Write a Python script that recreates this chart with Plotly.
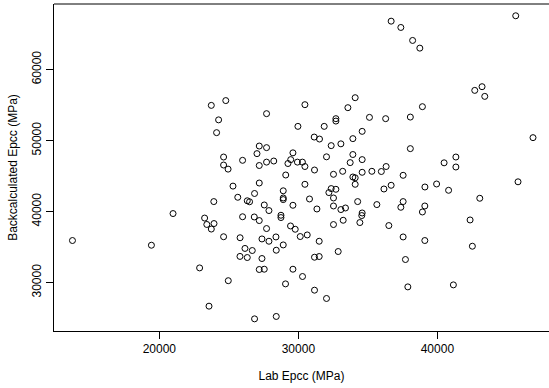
import plotly.graph_objects as go

lab_epcc = [
    13750, 19430, 20985, 22896, 23256, 23414, 23931, 23737, 23917, 23572,
    23737, 24779, 24262, 24118, 24621, 24621, 24945, 25987, 25297, 25642,
    26325, 26490, 26849, 25987, 26828, 24621, 25807, 26159, 26684, 25800,
    26325, 24959, 26849, 27712, 30471, 34087, 33562, 35114, 36279, 32699,
    32699, 29968, 31859, 34590, 31140, 31521, 33921, 32362, 33059, 27187,
    27712, 27022, 29609, 32024, 33921, 34590, 33727, 27187, 27712, 28229,
    29250, 29451, 29932, 30292, 30471, 31161, 33188, 34590, 35287, 35969,
    36314, 29092, 32527, 33921, 34087, 27187, 30471, 34087, 36156, 36674,
    28912, 28912, 28912, 29609, 30802, 32196, 32362, 32699, 32527, 34266,
    35646, 32527, 33059, 33389, 31334, 27546, 27884, 34590, 34560, 34424,
    33224, 32527, 28747, 28747, 27187, 29436, 29774, 27712, 30134, 30637,
    28387, 27381, 27884, 31499, 28409, 28912, 27381, 31161, 31499, 32865,
    27187, 27546, 29609, 30299, 29077, 31161, 32024, 28409, 36674, 37371,
    38219, 38737, 45636, 42689, 43214, 43408, 38923, 38054, 46879, 38054,
    41331, 40483, 41331, 37536, 39103, 39944, 40806, 45801, 43049, 37536,
    37371, 39096, 38923, 42352, 36508, 37536, 39096, 42517, 37702, 37874,
    41151,
]

back_epcc = [
    35923, 35262, 39719, 32070, 39086, 38186, 38313, 37539, 41406, 26685,
    54946, 55621, 52907, 51107, 47677, 46552, 45976, 47213, 43585, 42011,
    41518, 41378, 42545, 39269, 39241, 36457, 36316, 34812, 34517, 33687,
    33532, 30270, 24900, 53779, 55044, 56028, 54622, 53259, 53076, 53076,
    52738, 51993, 51993, 51290, 50489, 50208, 50264, 49280, 49533, 49223,
    48998, 48155, 48267, 47705, 48028, 47311, 46889, 46482, 46960, 47114,
    46763, 47311, 46960, 46960, 46341, 45849, 45666, 45526, 45666, 45638,
    46341, 45146, 45244, 44865, 44752, 44021, 43838, 43838, 43178, 43698,
    42924, 41912, 41687, 40886, 41772, 42671, 43234, 43135, 41912, 41406,
    40984, 40787, 40281, 40506, 40366, 40928, 40141, 39803, 39438, 38453,
    38777, 38172, 39480, 39156, 38735, 37975, 37511, 37610, 36485, 36710,
    36429, 36148, 35824, 35824, 34559, 35304, 33392, 33575, 33673, 34376,
    31845, 31887, 31887, 30861, 29821, 28935, 27768, 25237, 66798, 65913,
    64085, 63002, 67558, 57055, 57575, 56211, 54763, 53301, 50404, 48858,
    47677, 46861, 46271, 45104, 43459, 43881, 42995, 44190, 41870, 41406,
    40605, 40787, 39944, 38819, 38032, 36429, 35923, 35121, 33251, 29399,
    29680,
]

x_ticks = [20000, 30000, 40000]
y_ticks = [30000, 40000, 50000, 60000]
x_title = "Lab Epcc (MPa)"
y_title = "Backcalculated Epcc (MPa)"

FONT = "Liberation Sans, Arial, Helvetica, sans-serif"

fig = go.Figure()
fig.add_trace(go.Scatter(
    x=lab_epcc, y=back_epcc, mode="markers",
    marker=dict(symbol="circle-open", size=6, color="black",
                line=dict(width=1, color="black")),
    showlegend=False, hoverinfo="skip",
))

axis_common = dict(
    showgrid=False, zeroline=False, showline=True, linecolor="black", linewidth=1,
    ticks="outside", ticklen=7, tickwidth=1, tickcolor="black", automargin=False,
    tickfont=dict(family=FONT, size=12, color="black"),
)

fig.update_xaxes(
    **axis_common, range=[12422, 48029], tickvals=x_ticks,
    ticktext=[str(v) for v in x_ticks],
    title=dict(text=x_title, font=dict(family=FONT, size=12, color="black"), standoff=16),
)
fig.update_yaxes(
    **axis_common, range=[23190, 69215], tickvals=y_ticks,
    ticktext=[str(v) for v in y_ticks], tickangle=-90,
    title=dict(text=y_title, font=dict(family=FONT, size=12, color="black"), standoff=10),
)

fig.add_shape(type="line", xref="paper", yref="paper", x0=0, x1=1, y0=1, y1=1,
              line=dict(color="black", width=1))

fig.update_layout(
    width=549, height=388,
    margin=dict(l=54, r=0, t=4, b=57, autoexpand=False),
    paper_bgcolor="white", plot_bgcolor="white",
    font=dict(family=FONT, size=12, color="black"),
)

fig.write_html("out.html",
               config={"displayModeBar": False, "staticPlot": True},
               post_script="document.body.style.margin='0px';document.body.style.overflow='hidden';")
